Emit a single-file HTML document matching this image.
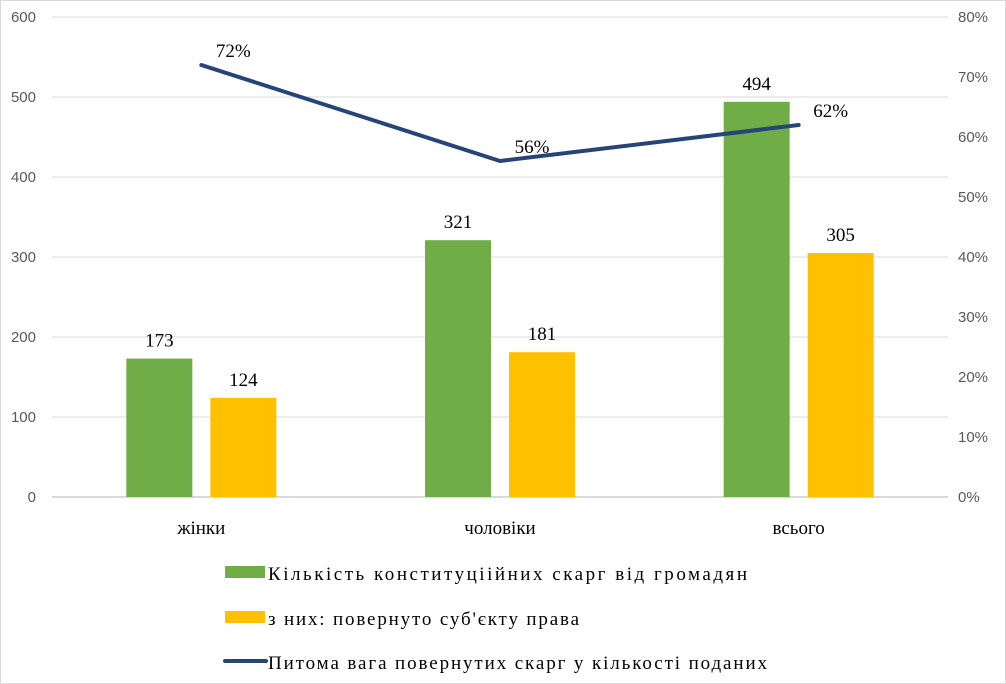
<!DOCTYPE html>
<html><head><meta charset="utf-8"><style>
html,body{margin:0;padding:0;background:#fff;}
svg{display:block;}
.tick{font-family:"Liberation Sans",sans-serif;font-size:15px;fill:#595959;}
.ser{font-family:"Liberation Serif",serif;fill:#000;}
</style></head><body>
<svg id="chart" width="1006" height="684" viewBox="0 0 1006 684">
<rect x="0.5" y="0.5" width="1005" height="683" fill="#fff" stroke="#d9d9d9"/>
<g id="grid"></g><g id="bars"></g><g id="line"></g><g id="labels"></g>
<g>
<rect x="225" y="566" width="40" height="12" fill="#70ad47"/>
<text class="ser" x="268" y="580" font-size="19" textLength="479" lengthAdjust="spacing">Кількість конституціійних скарг від громадян</text>
<rect x="225" y="611" width="40" height="12" fill="#ffc000"/>
<text class="ser" x="268" y="625" font-size="19" textLength="311" lengthAdjust="spacing">з них: повернуто суб'єкту права</text>
<line x1="225" y1="661" x2="266" y2="661" stroke="#264478" stroke-width="4" stroke-linecap="round"/>
<text class="ser" x="268" y="669" font-size="19" textLength="499" lengthAdjust="spacing">Питома вага повернутих скарг у кількості поданих</text>
</g>
</svg>
<script>
const categories=["жінки","чоловіки","всього"];
const complaints=[173,321,494];
const returned=[124,181,305];
const share=[72,56,62];
const leftTicks=[0,100,200,300,400,500,600];
const rightTicks=[0,10,20,30,40,50,60,70,80];
const NS="http://www.w3.org/2000/svg";
const x0=52,x1=948,y0=497,yTop=17;
const yL=v=>y0-(v/600)*(y0-yTop);
const yR=v=>y0-(v/80)*(y0-yTop);
const bw=(x1-x0)/categories.length;
const xc=i=>x0+bw*(i+0.5);
function mk(tag,attrs,parent,text){const e=document.createElementNS(NS,tag);for(const k in attrs)e.setAttribute(k,attrs[k]);if(text!==undefined)e.textContent=text;document.getElementById(parent).appendChild(e);return e;}
leftTicks.forEach(v=>{
 if(v>0){const g=mk('line',{x1:x0,x2:x1,y1:yL(v),y2:yL(v),stroke:'#d9d9d9','stroke-width':1},'grid');
 
 }
 const t=mk('text',{x:36,y:yL(v)+5,'text-anchor':'end',class:'tick'},'labels',String(v));
 
 
});
const ax=mk('line',{x1:x0,x2:x1,y1:y0,y2:y0,stroke:'#d9d9d9','stroke-width':2},'grid');


rightTicks.forEach(v=>{
 const t=mk('text',{x:958,y:yR(v)+5,'text-anchor':'start',class:'tick'},'labels',v+'%');
 
 
});
const barW=66;
categories.forEach((c,i)=>{
 const gx=xc(i)-42-barW/2, ox=xc(i)+42-barW/2;
 const g=mk('rect',{x:gx,y:yL(complaints[i]),width:barW,height:y0-yL(complaints[i]),fill:'#70ad47'},'bars');
 
 
 const o=mk('rect',{x:ox,y:yL(returned[i]),width:barW,height:y0-yL(returned[i]),fill:'#ffc000'},'bars');
 
 
 const l1=mk('text',{x:gx+barW/2,y:yL(complaints[i])-12,'text-anchor':'middle',class:'ser','font-size':19},'labels',String(complaints[i]));
 
 
 const l2=mk('text',{x:ox+barW/2,y:yL(returned[i])-12,'text-anchor':'middle',class:'ser','font-size':19},'labels',String(returned[i]));
 
 
 const cl=mk('text',{x:xc(i),y:534,'text-anchor':'middle',class:'ser','font-size':19},'labels',c);
 
 
 const pl=mk('text',{x:xc(i)+32,y:yR(share[i])-8,'text-anchor':'middle',class:'ser','font-size':19},'labels',share[i]+'%');
 
 
});
const pts=share.map((v,i)=>xc(i)+','+yR(v)).join(' ');
const pl=mk('polyline',{points:pts,fill:'none',stroke:'#264478','stroke-width':4,'stroke-linecap':'round','stroke-linejoin':'round'},'line');


</script>
</body></html>
